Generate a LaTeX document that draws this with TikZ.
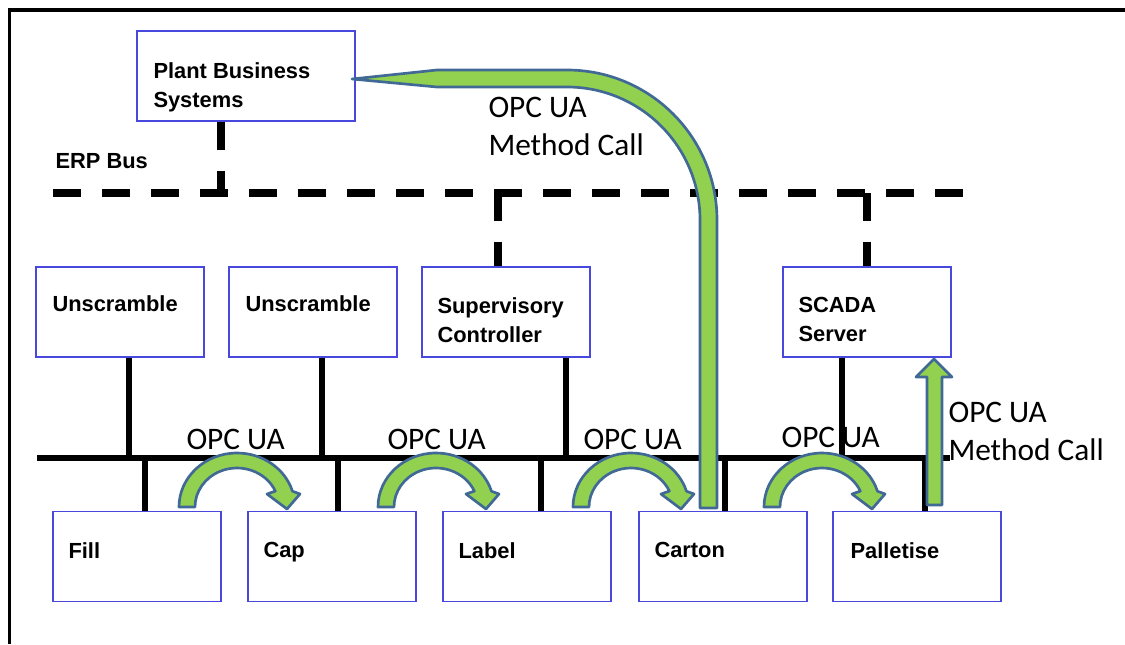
\documentclass[tikz,border=0pt]{standalone}
\usepackage{fontspec}
\setmainfont{Liberation Sans}
\newfontfamily\calibri{Carlito}
\definecolor{boxblue}{RGB}{72,72,222}
\definecolor{arrowgreen}{RGB}{146,208,80}
\definecolor{arrowedge}{RGB}{65,105,150}

\tikzset{every picture/.style={line width=0.75pt}}
\tikzset{
  unitbox/.style={draw=boxblue, fill=white, line width=1.1pt, minimum width=126pt, minimum height=67.5pt, inner sep=0pt},
  boxtext/.style={anchor=north west, inner sep=0pt, align=left, font=\fontsize{16.4}{21.75}\selectfont\bfseries},
  opctext/.style={anchor=north west, inner sep=0pt, align=left, font=\calibri\fontsize{23.5}{28.5}\selectfont},
  erpline/.style={line width=5.6pt, dash pattern=on 21pt off 15.75pt},
  ctlline/.style={line width=5pt},
  tapline/.style={line width=4.3pt},
  blockarrow/.style={fill=arrowgreen, draw=arrowedge, line width=2pt, line join=round},
  pics/opcarc/.style={code={
    \draw[blockarrow] (180:58 and 54) arc[start angle=180,end angle=343,x radius=58,y radius=54] -- (63,-13) -- (50,2) -- (30,-13) -- (336:42 and 39) arc[start angle=336,end angle=180,x radius=42,y radius=39] -- cycle;
  }}
}

\begin{document}
\begin{tikzpicture}[x=0.75pt,y=0.75pt,yscale=-1,xscale=1]
\useasboundingbox (0,0) rectangle (1125,644);
%Frame
\draw[line width=2.6pt] (9.5,644) -- (9.5,10) -- (1125,10);

%Shape: Rectangle [pbs]
\node[unitbox, minimum width=163.5pt] (pbs) at (246,76) {};
%Shape: Rectangle [middle row]
\node[unitbox] (unscrA) at (120,312) {};
\node[unitbox] (unscrB) at (313,312) {};
\node[unitbox] (superv) at (506,312) {};
\node[unitbox] (scada) at (867,312) {};
%Shape: Rectangle [bottom row]
\node[unitbox] (fill) at (137,556.5) {};
\node[unitbox] (cap) at (332,556.5) {};
\node[unitbox] (lbl) at (527,556.5) {};
\node[unitbox] (carton) at (723,556.5) {};
\node[unitbox] (pallet) at (917,556.5) {};

%Bus ends and taps
\coordinate (erpW) at (53,193);
\coordinate (erpE) at (963,193);
\coordinate (tapPbs) at (221,193);
\coordinate (tapSup) at (498,193);
\coordinate (tapScd) at (867,193);
\coordinate (ctlW) at (37,458);
\coordinate (ctlE) at (950,458);
\coordinate (tapUA) at (129,458);
\coordinate (tapUB) at (322,458);
\coordinate (tapSv) at (566,458);
\coordinate (tapSc) at (842,458);
\coordinate (tapFill) at (145,458);
\coordinate (tapCap) at (338,458);
\coordinate (tapLbl) at (541,458);
\coordinate (tapCtn) at (725,458);
\coordinate (tapPal) at (925,458);

%Dashed Lines: ERP bus
\draw[erpline] (erpW) -- (erpE);
\draw[erpline] (pbs.south -| tapPbs) -- (tapPbs);
\draw[erpline] (tapSup) -- (superv.north -| tapSup);
\draw[erpline] (tapScd) -- (scada.north -| tapScd);

%Straight Lines: control bus
\draw[ctlline] (ctlW) -- (ctlE);
\draw[tapline] (unscrA.south -| tapUA) -- (tapUA);
\draw[tapline] (unscrB.south -| tapUB) -- (tapUB);
\draw[tapline] (superv.south -| tapSv) -- (tapSv);
\draw[tapline] (scada.south -| tapSc) -- (tapSc);
\draw[tapline] (tapFill) -- (fill.north -| tapFill);
\draw[tapline] (tapCap) -- (cap.north -| tapCap);
\draw[tapline] (tapLbl) -- (lbl.north -| tapLbl);
\draw[tapline] (tapCtn) -- (carton.north -| tapCtn);
\draw[tapline] (tapPal) -- (pallet.north -| tapPal);

% Text Node
\node[boxtext] (pbsT) at (153,62) {Plant Business\\Systems};
\node[boxtext] (erpT) at (55,153) {ERP Bus};
\node[boxtext] (unscrAT) at (52,295) {Unscramble};
\node[boxtext] (unscrBT) at (245,295) {Unscramble};
\node[boxtext] (supervT) at (437,297) {Supervisory\\Controller};
\node[boxtext] (scadaT) at (798,297) {SCADA\\Server};
\node[boxtext] (fillT) at (68,542) {Fill};
\node[boxtext] (capT) at (263,542) {Cap};
\node[boxtext] (lblT) at (458,542) {Label};
\node[boxtext] (cartonT) at (654,542) {Carton};
\node[boxtext] (palletT) at (850,542) {Palletise};

% Text Node
\node[opctext] (opcA) at (186,429) {OPC UA};
\node[opctext] (opcB) at (387,429) {OPC UA};
\node[opctext] (opcC) at (583,429) {OPC UA};
\node[opctext] (opcD) at (781,427) {OPC UA};
\node[opctext] (callA) at (488,97) {OPC UA\\Method Call};
\node[opctext] (callB) at (948,402) {OPC UA\\Method Call};

%Block Arrows
\pic[transform shape] at (237,507) {opcarc};
\pic[transform shape] at (436,507) {opcarc};
\pic[transform shape] at (631,507) {opcarc};
\pic[transform shape] at (822,507) {opcarc};
\draw[blockarrow] (700,508) -- (700,220) arc[start angle=0,end angle=-90,radius=133] -- (437,87) -- (352,79) -- (437,70) -- (567,70) arc[start angle=-90,end angle=0,radius=150] -- (717,508) -- cycle;
\draw[blockarrow] (927,505) -- (927,377) -- (916,377) -- (934,359) -- (952,377) -- (942,377) -- (942,505) -- cycle;
\end{tikzpicture}
\end{document}
